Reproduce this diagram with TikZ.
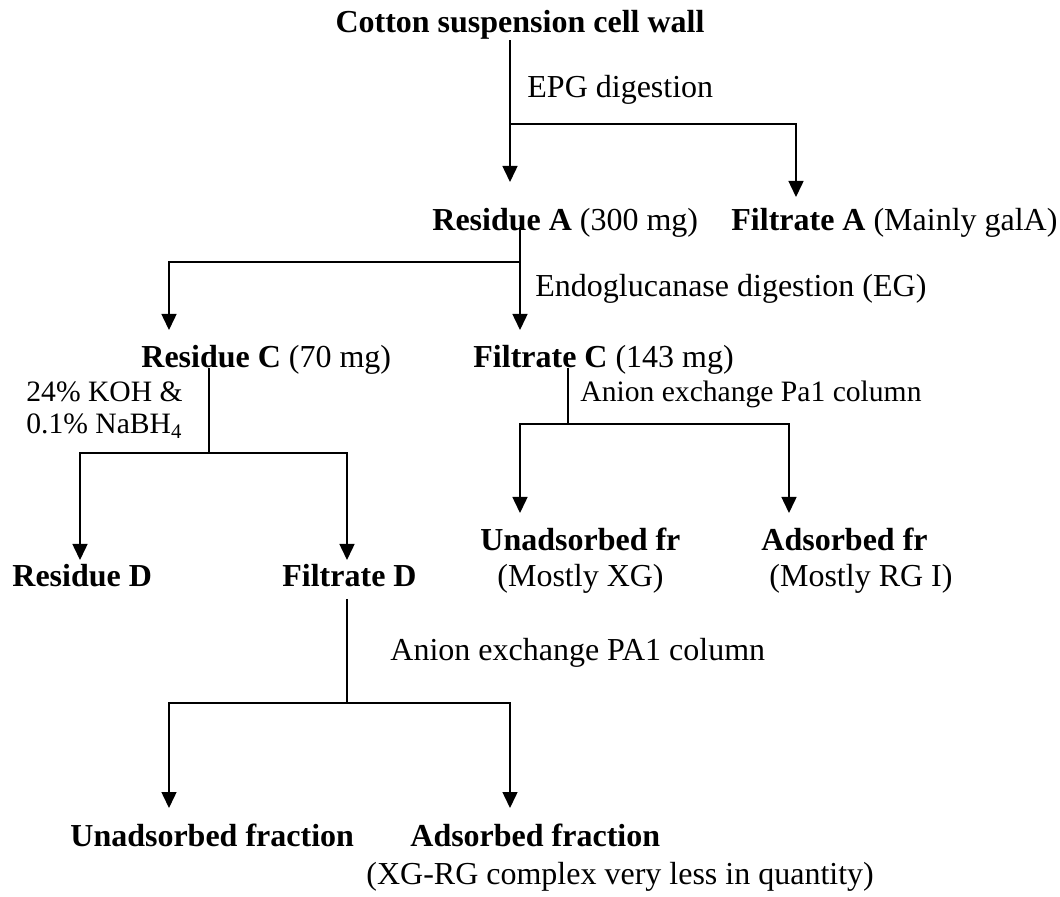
\documentclass[tikz,border=0pt]{standalone}
\usepackage{fontspec}
\setmainfont{Liberation Serif}
\usetikzlibrary{arrows.meta}

\begin{document}
\begin{tikzpicture}[x=0.5pt, y=-0.5pt,
  txt/.style={anchor=base west, inner sep=0pt, font=\fontsize{16}{19}\selectfont},
  txtsm/.style={anchor=base west, inner sep=0pt, font=\fontsize{14.8}{18}\selectfont},
  ln/.style={line width=0.75pt},
  arr/.style={ln, -{Triangle[length=8pt, width=7.5pt]}},
]
  \useasboundingbox (0,0) rectangle (1060,897);

  % fractions and steps
  \node[txt, anchor=base] (wall) at (520,33)   {\textbf{Cotton suspension cell wall}};
  \node[txt]   (epg)  at (527,98)   {EPG digestion};
  \node[txt]   (resA) at (432,231)  {\textbf{Residue A} (300 mg)};
  \node[txt]   (filA) at (731,231)  {\textbf{Filtrate A} (Mainly galA)};
  \node[txt]   (eg)   at (535,297)  {Endoglucanase digestion (EG)};
  \node[txt]   (resC) at (141,368)  {\textbf{Residue C} (70 mg)};
  \node[txt]   (filC) at (473,368)  {\textbf{Filtrate C} (143 mg)};
  \node[txtsm] (koh)  at (26,402)   {24\% KOH \&};
  \node[txtsm] (nabh) at (26,434)   {0.1\% NaBH\textsubscript{4}};
  \node[txtsm] (paC)  at (580,402)  {Anion exchange Pa1 column};
  \node[txt]   (unC)  at (480,551)  {\textbf{Unadsorbed fr}};
  \node[txt]   (unCx) at (497,587)  {(Mostly XG)};
  \node[txt]   (adC)  at (761,551)  {\textbf{Adsorbed fr}};
  \node[txt]   (adCx) at (769,587)  {(Mostly RG I)};
  \node[txt]   (resD) at (12,587)   {\textbf{Residue D}};
  \node[txt]   (filD) at (282,587)  {\textbf{Filtrate D}};
  \node[txt]   (paD)  at (390,661)  {Anion exchange PA1 column};
  \node[txt]   (unD)  at (70,846)   {\textbf{Unadsorbed fraction}};
  \node[txt]   (adD)  at (410,846)  {\textbf{Adsorbed fraction}};
  \node[txt]   (adDx) at (366,884)  {(XG-RG complex very less in quantity)};

  % split points and arrow ends
  \coordinate (s1) at (510,124);
  \coordinate (s2) at (520,262);
  \coordinate (s3) at (209,453);
  \coordinate (s4) at (568,424);
  \coordinate (s5) at (347,703);
  \coordinate (tResA) at (510,182);
  \coordinate (tFilA) at (796,197);
  \coordinate (tResC) at (169,330);
  \coordinate (tFilC) at (520,330);
  \coordinate (tResD) at (80,560);
  \coordinate (tFilD) at (347,560);
  \coordinate (tUnC)  at (520,513);
  \coordinate (tAdC)  at (789,513);
  \coordinate (tUnD)  at (169,808);
  \coordinate (tAdD)  at (510,808);

  \draw[arr] (wall.south -| s1) -- (tResA);
  \draw[arr] (s1) -| (tFilA);

  \draw[arr] ([yshift=2pt]resA.base -| s2) -- (tFilC);
  \draw[arr] (s2) -| (tResC);

  \draw[ln]  (resC.base -| s3) -- (s3);
  \draw[arr] (s3) -| (tResD);
  \draw[arr] (s3) -| (tFilD);

  \draw[ln]  (filC.base -| s4) -- (s4);
  \draw[arr] (s4) -| (tUnC);
  \draw[arr] (s4) -| (tAdC);

  \draw[ln, shorten <=6pt] (filD.base -| s5) -- (s5);
  \draw[arr] (s5) -| (tUnD);
  \draw[arr] (s5) -| (tAdD);
\end{tikzpicture}
\end{document}
